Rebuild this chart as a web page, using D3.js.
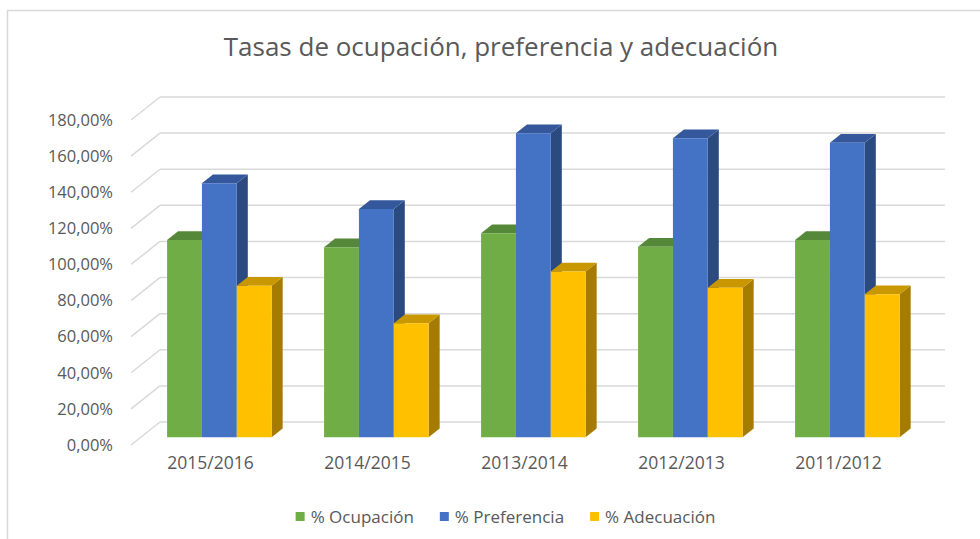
<!DOCTYPE html>
<html>
<head>
<meta charset="utf-8">
<script src="https://cdn.jsdelivr.net/npm/d3@7"></script>
<style>
  body { margin: 0; background: #fff; }
  svg text { font-family: "Open Sans", sans-serif; fill: #595959; }
</style>
</head>
<body>
<div id="chart"></div>
<script>
// data
const categories = ["2015/2016", "2014/2015", "2013/2014", "2012/2013", "2011/2012"];
const seriesNames = ["% Ocupación", "% Preferencia", "% Adecuación"];
const ocupacion   = [109.2, 105.2, 112.9, 105.5, 109.2];
const preferencia = [140.6, 126.4, 168.3, 165.5, 163.1];
const adecuacion  = [83.9, 63.1, 91.7, 82.8, 79.1];
const yTicks = [0, 20, 40, 60, 80, 100, 120, 140, 160, 180];

const seriesValues = [ocupacion, preferencia, adecuacion];
const colors = [
  {front: "#70AD47", top: "#56883A", side: "#4A7530"},
  {front: "#4472C4", top: "#34589B", side: "#2B4A80"},
  {front: "#FFC000", top: "#C99700", side: "#A67C00"}
];

const width = 980, height = 539;
// oblique depth vector (back wall -> front edge)
const depth = {dx: -29, dy: 23};
const barFront = 0.66, barBack = 0.28;

const svg = d3.select("#chart").append("svg")
    .attr("width", width)
    .attr("height", height);

// chart border
svg.append("rect")
    .attr("x", 7.5).attr("y", 10.5)
    .attr("width", 990).attr("height", 560)
    .attr("fill", "#fff")
    .attr("stroke", "#d9d9d9")
    .attr("stroke-width", 1.5);

svg.append("text")
    .attr("x", 501).attr("y", 56)
    .attr("text-anchor", "middle")
    .style("font-size", "26px")
    .text("Tasas de ocupación, preferencia y adecuación");

// back-wall scales
let x = d3.scaleBand()
    .domain(categories)
    .range([160, 945])
    .paddingInner(0.334)
    .paddingOuter(0.167);

let xs = d3.scaleBand()
    .domain(seriesNames)
    .range([0, x.bandwidth()]);

let y = d3.scaleLinear()
    .domain([0, 180])
    .range([422, 97]);

function proj(px, py, d) {
  return [px + depth.dx * d, py + depth.dy * d];
}

// gridlines: back wall + side wall
let grid = svg.append("g").attr("class", "grid")
    .attr("stroke", "#d9d9d9")
    .attr("stroke-width", 1.5)
    .attr("fill", "none");

grid.selectAll(".back")
    .data(yTicks)
    .enter().append("line")
    .attr("x1", 160).attr("x2", 945)
    .attr("y1", d => y(d)).attr("y2", d => y(d));

grid.selectAll(".side")
    .data(yTicks)
    .enter().append("line")
    .attr("x1", 160).attr("y1", d => y(d))
    .attr("x2", 160 + depth.dx).attr("y2", d => y(d) + depth.dy);

// y axis on the front edge
let yFront = y.copy().range(y.range().map(v => v + depth.dy));
let locale = d3.formatLocale({decimal: ",", thousands: ".", grouping: [3], currency: ["", "€"]});
let fmt = locale.format(".2f");

let yAxis_g = svg.append("g")
    .attr("class", "y axis")
    .attr("transform", "translate(113,0)")
    .call(d3.axisLeft(yFront).tickValues(yTicks).tickSize(0).tickPadding(0)
      .tickFormat(d => fmt(d) + "%"));
yAxis_g.select(".domain").remove();
yAxis_g.selectAll("text")
    .style("font-size", "16.5px")
    .style("font-family", "'Open Sans', sans-serif")
    .attr("fill", "#595959");

// x axis labels on the front edge
let xFront = d3.scaleBand()
    .domain(categories)
    .range([160 + depth.dx, 945 + depth.dx]);

let xAxis_g = svg.append("g")
    .attr("class", "x axis")
    .attr("transform", "translate(1,457)")
    .call(d3.axisBottom(xFront).tickSize(0).tickPadding(0));
xAxis_g.select(".domain").remove();
xAxis_g.selectAll("text")
    .style("font-size", "17.5px")
    .style("font-family", "'Open Sans', sans-serif")
    .attr("fill", "#595959");

// 3D bars
let bars = svg.append("g").attr("class", "bars");

categories.forEach(function(cat, ci) {
  seriesNames.forEach(function(s, si) {
    let v = seriesValues[si][ci];
    let x0 = x(cat) + xs(s), x1 = x0 + xs.bandwidth();
    let yt = y(v), yb = y(0);
    let fTL = proj(x0, yt, barFront), fTR = proj(x1, yt, barFront),
        fBL = proj(x0, yb, barFront), fBR = proj(x1, yb, barFront),
        bTL = proj(x0, yt, barBack), bTR = proj(x1, yt, barBack),
        bBR = proj(x1, yb, barBack);
    let g = bars.append("g").attr("class", "bar");
    g.append("path")
        .attr("d", d3.line()([fTR, bTR, bBR, fBR]) + "Z")
        .attr("fill", colors[si].side);
    g.append("path")
        .attr("d", d3.line()([fTL, bTL, bTR, fTR]) + "Z")
        .attr("fill", colors[si].top);
    g.append("path")
        .attr("d", d3.line()([fTL, fTR, fBR, fBL]) + "Z")
        .attr("fill", colors[si].front);
  });
});

// legend
let legend = svg.append("g").attr("class", "legend");
let lx = 0;
seriesNames.forEach(function(s, i) {
  let item = legend.append("g").attr("transform", "translate(" + lx + ",0)");
  item.append("rect")
      .attr("x", 0).attr("y", 512)
      .attr("width", 9).attr("height", 9)
      .attr("fill", colors[i].front);
  let t = item.append("text")
      .attr("x", 15).attr("y", 523)
      .style("font-size", "17px")
      .text(s);
  lx += 15 + t.node().getComputedTextLength() + 26;
});
let legendW = lx - 26;
legend.attr("transform", "translate(" + (505.5 - legendW / 2) + ",0)");
</script>
</body>
</html>
